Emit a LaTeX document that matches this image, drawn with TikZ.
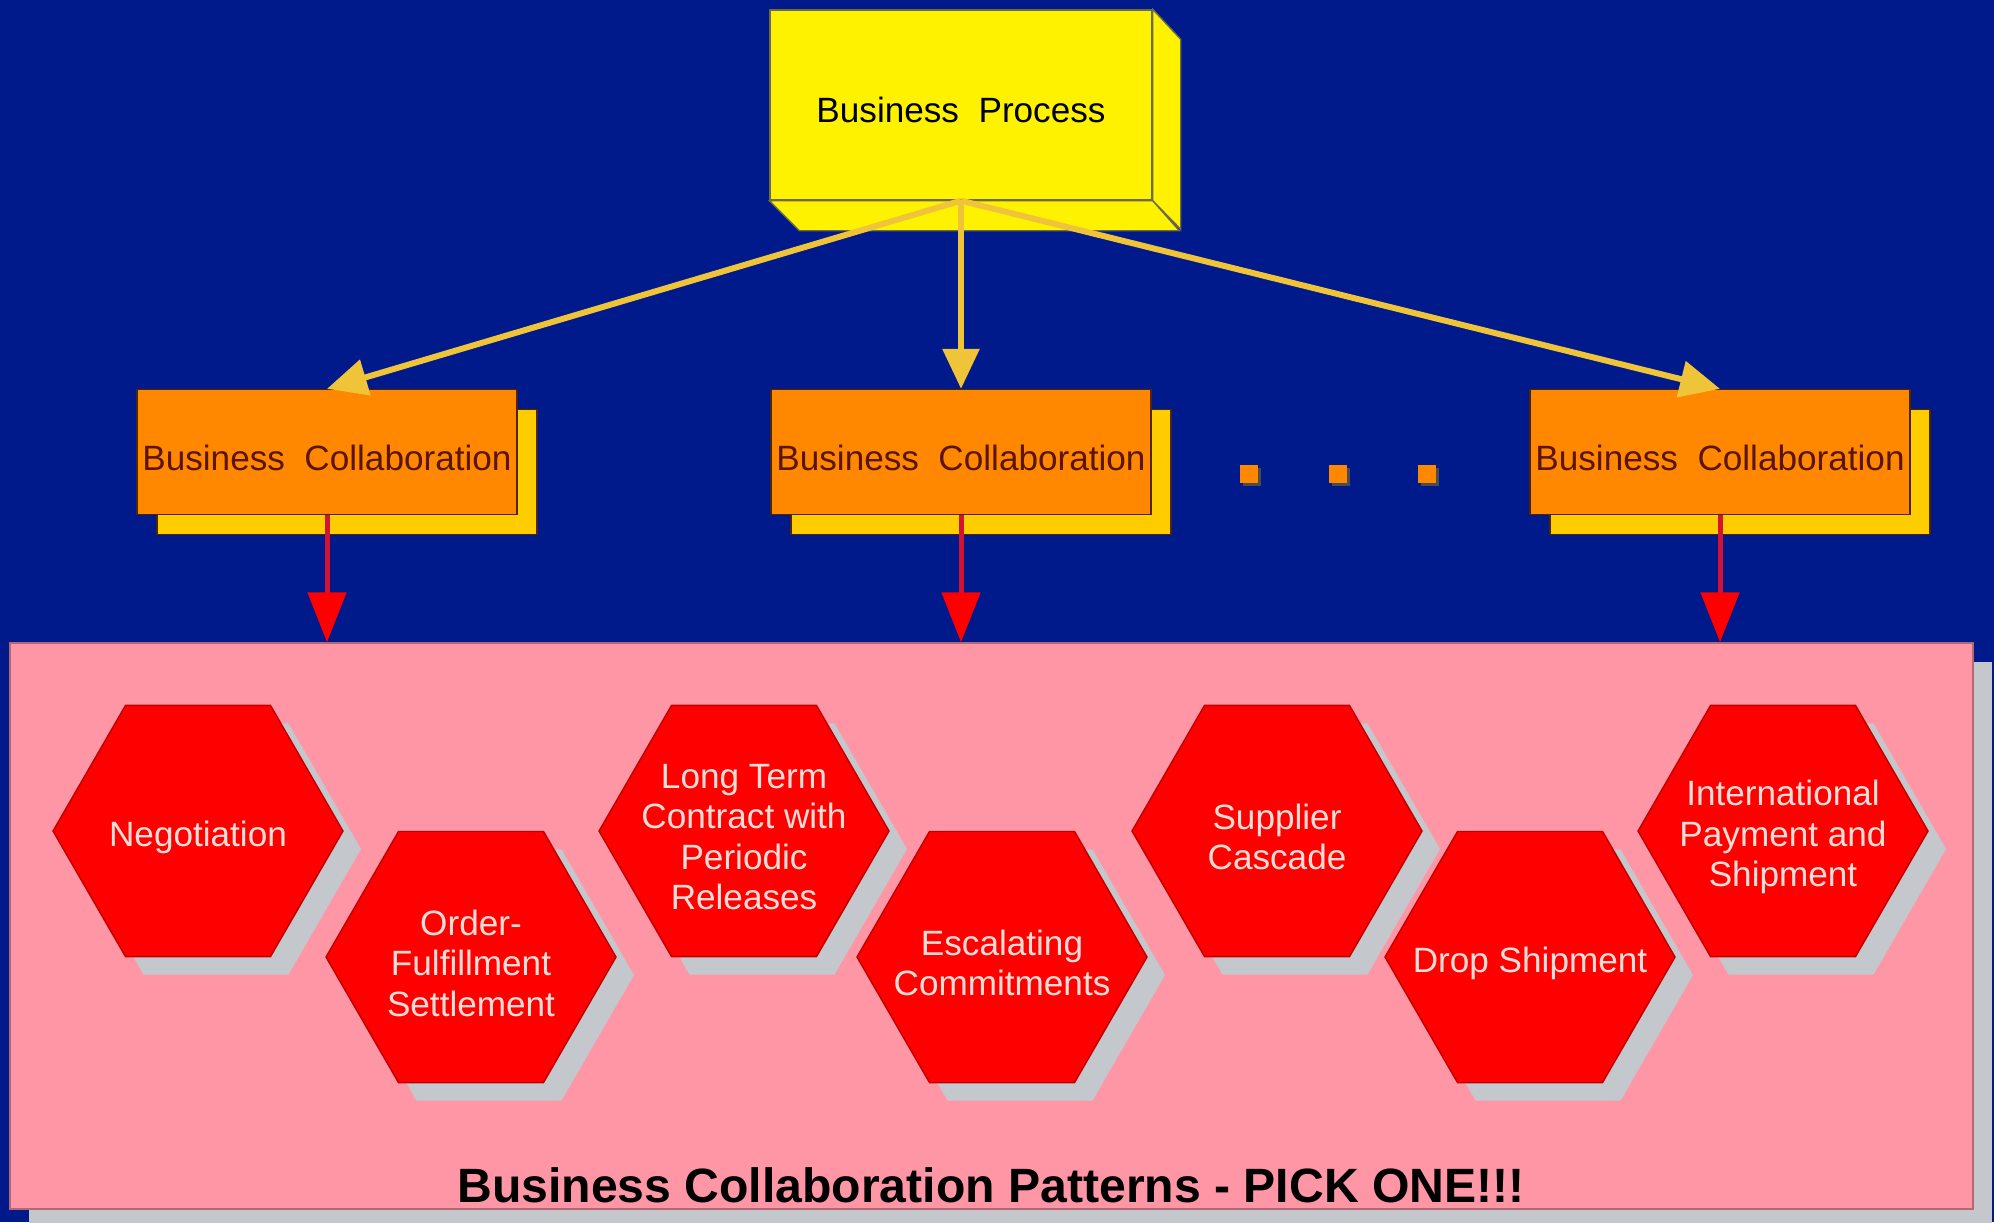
\documentclass[tikz,border=0pt]{standalone}
\usepackage{fontspec}
\setmainfont{Liberation Sans}
\usetikzlibrary{shapes.geometric,shadows,arrows.meta}
\definecolor{bgblue}{RGB}{0,26,140}
\definecolor{patpink}{RGB}{255,150,166}
\definecolor{bcorange}{RGB}{255,136,0}
\definecolor{bcgold}{RGB}{255,204,0}
\definecolor{bctext}{RGB}{90,20,0}
\definecolor{linkgold}{RGB}{240,196,56}
\definecolor{hexgrey}{RGB}{196,200,204}
\definecolor{hextext}{RGB}{255,222,216}
\definecolor{pickred}{RGB}{210,20,50}
\tikzset{ bp/.style = { rectangle % business process
        , draw = yellow!35!black
        , fill = yellow
        , minimum width = 38.2mm
        , minimum height = 19mm
        , text height = 3.5mm
        , text depth = 0pt
        , font = \fontsize{10}{12}\selectfont
        }
        , bc/.style = { rectangle % business collaboration
        , draw = orange!30!black
        , fill = bcorange
        , inner xsep = 0pt
        , minimum width = 38mm
        , minimum height = 12.5mm
        , text height = 3.7mm
        , text depth = 0pt
        , font = \fontsize{10}{12}\selectfont\color{bctext}
        , drop shadow = {shadow xshift=2mm, shadow yshift=-2mm, fill=bcgold, draw=orange!30!black, opacity=1}
        }
        , hx/.style = { regular polygon % pattern
        , regular polygon sides = 6
        , minimum size = 29mm
        , inner sep = 0pt
        , fill = red
        , draw = red!75!black
        , drop shadow = {shadow xshift=1.8mm, shadow yshift=-1.8mm, fill=hexgrey, opacity=1}
        }
        }
\begin{document}
\begin{tikzpicture}[x=0.1mm, y=-0.1mm,
        hex_text/.style={text=hextext, align=center, yshift=-0.6mm, font=\fontsize{10}{11.5}\selectfont},
        dot_style/.style={rectangle, fill=bcorange, minimum size=1.8mm, inner sep=0pt, drop shadow={shadow xshift=0.3mm, shadow yshift=-0.3mm, fill=black!70, opacity=1}},
        link_style/.style={draw=linkgold, line width=0.6mm, -{Triangle[width=3.6mm,length=4mm]}},
        pick_style/.style={draw=pickred, line width=0.5mm, -{Triangle[width=3.8mm,length=5mm,color=red]}}]
        \useasboundingbox (0,0) rectangle (1994,1222);
        \fill [bgblue] (0,0) rectangle (1994,1222);

        \node [rectangle, draw=patpink!70!black, fill=patpink, minimum width=196.3mm, minimum height=56.6mm, drop shadow={shadow xshift=1.9mm, shadow yshift=-1.9mm, fill=hexgrey, opacity=1}] (pat) at (991.5,926) {};
        \node [font=\fontsize{13.7}{16}\selectfont\bfseries] (title) at (991,1185) {Business Collaboration Patterns - PICK ONE!!!};

        \node [bp] (bp) at (961,105) {Business\ \ Process};
        \filldraw [fill=yellow, draw=yellow!35!black] (bp.north east) -- ++(28,30) -- ++(0,190) -- (bp.south east) -- cycle;
        \filldraw [fill=yellow, draw=yellow!35!black] (bp.south west) -- ++(30,30) -- ++(380,0) -- (bp.south east) -- cycle;

        \node [bc] (bc1) at (327,452) {Business\ \ Collaboration};
        \node [bc] (bc2) at (961,452) {Business\ \ Collaboration};
        \node [bc] (bc3) at (1720,452) {Business\ \ Collaboration};
        \foreach \i/\x in {1/1249,2/1338,3/1427}
            \node [dot_style] (dot\i) at (\x,474) {};

        \draw [link_style] (bp.south) -- (bc1.north);
        \draw [link_style] (bp.south) -- (bc2.north);
        \draw [link_style] (bp.south) -- (bc3.north);
        \draw [pick_style] (bc1.south) -- (bc1.south |- pat.north);
        \draw [pick_style] (bc2.south) -- (bc2.south |- pat.north);
        \draw [pick_style] (bc3.south) -- (bc3.south |- pat.north);

        \node [hx, label={[hex_text]center:Negotiation}] (p1) at (198,831) {};
        \node [hx, label={[hex_text]center:{Order-\\Fulfillment\\Settlement}}] (p2) at (471,957) {};
        \node [hx, label={[hex_text]center:{Long Term\\Contract with\\Periodic\\Releases}}] (p3) at (744,831) {};
        \node [hx, label={[hex_text]center:{Escalating\\Commitments}}] (p4) at (1002,957) {};
        \node [hx, label={[hex_text]center:{Supplier\\Cascade}}] (p5) at (1277,831) {};
        \node [hx, label={[hex_text]center:{Drop Shipment}}] (p6) at (1530,957) {};
        \node [hx, label={[hex_text]center:{International\\Payment and\\Shipment}}] (p7) at (1783,831) {};
\end{tikzpicture}
\end{document}
